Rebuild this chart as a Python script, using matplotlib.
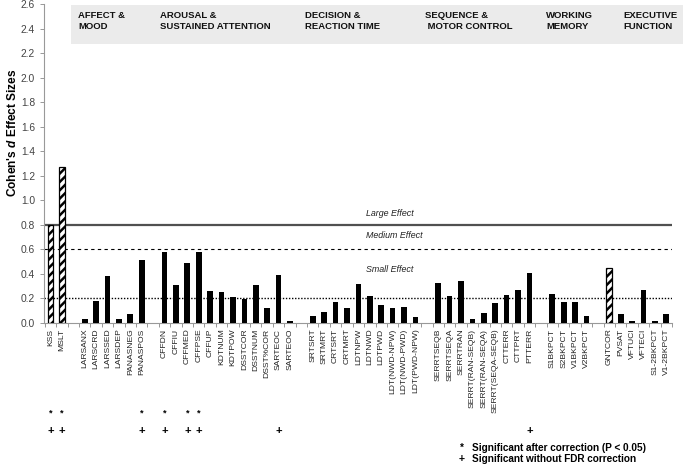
import matplotlib
matplotlib.use("Agg")
import matplotlib.pyplot as plt
import matplotlib.transforms as mtransforms
from matplotlib.patches import Rectangle
import numpy as np

plt.rcParams['font.family'] = ['Liberation Sans', 'DejaVu Sans']
plt.rcParams['mathtext.fontset'] = 'custom'
plt.rcParams['mathtext.bfit'] = 'Liberation Sans:italic:bold'
plt.rcParams['mathtext.it'] = 'Liberation Sans:italic'
plt.rcParams['hatch.linewidth'] = 1.8

# measures, "" = empty slot between groups
labels = ["KSS", "MSLT", "",
          "LARSANX", "LARSCRD", "LARSSED", "LARSDEP", "PANASNEG", "PANASPOS", "",
          "CFFDN", "CFFIU", "CFFMED", "CFFPSE", "CFFUP", "KDTNUM", "KDTPOW",
          "DSSTCOR", "DSSTNUM", "DSST%COR", "SARTEOC", "SARTEOO", "",
          "SRTSRT", "SRTMRT", "CRTSRT", "CRTMRT", "LDTNPW", "LDTNWD", "LDTPWD",
          "LDT(NWD-NPW)", "LDT(NWD-PWD)", "LDT(PWD-NPW)", "",
          "SERRTSEQB", "SERRTSEQA", "SERRTRAN", "SERRT(RAN-SEQB)", "SERRT(RAN-SEQA)",
          "SERRT(SEQA-SEQB)", "CTTERR", "CTTPRT", "PTTERR", "",
          "S1BKPCT", "S2BKPCT", "V1BKPCT", "V2BKPCT", "",
          "GNTCOR", "PVSAT", "VFTUCI", "VFTECI", "S1-2BKPCT", "V1-2BKPCT"]
effect = [0.80, 1.27, np.nan,
          0.03, 0.18, 0.385, 0.03, 0.07, 0.515, np.nan,
          0.575, 0.31, 0.49, 0.575, 0.26, 0.25, 0.21,
          0.195, 0.31, 0.125, 0.39, 0.013, np.nan,
          0.06, 0.09, 0.17, 0.12, 0.315, 0.22, 0.145,
          0.125, 0.133, 0.05, np.nan,
          0.33, 0.22, 0.34, 0.03, 0.08, 0.16, 0.23, 0.27, 0.41, np.nan,
          0.24, 0.17, 0.17, 0.06, np.nan,
          0.445, 0.07, 0.013, 0.27, 0.013, 0.07]
hatched = ["KSS", "MSLT", "GNTCOR"]
sig_fdr = ["KSS", "MSLT", "PANASPOS", "CFFDN", "CFFMED", "CFFPSE"]
sig_raw = ["KSS", "MSLT", "PANASPOS", "CFFDN", "CFFMED", "CFFPSE", "SARTEOC", "PTTERR"]

groups = ["AFFECT &\nMOOD", "AROUSAL &\nSUSTAINED ATTENTION", "DECISION &\nREACTION TIME",
          "SEQUENCE &\n MOTOR CONTROL", "WORKING\nMEMORY", "EXECUTIVE\nFUNCTION"]
group_px = [78, 160, 305, 425, 546, 623]

thresholds = [0.8, 0.6, 0.2]
thr_names = ["Large Effect", "Medium Effect", "Small Effect"]

x = np.arange(len(labels))
W, H = 685, 465

fig = plt.figure(figsize=(6.85, 4.65), dpi=100)
ax = fig.add_axes([44 / W, 1 - 323 / H, (672 - 44) / W, 319 / H])

# grey band with group titles
fig.patches.append(Rectangle((71 / W, 1 - 44 / H), (683 - 71) / W, 39 / H,
                             transform=fig.transFigure, facecolor="#ebebeb",
                             edgecolor="none", zorder=0))
for g, px in zip(groups, group_px):
    fig.text(px / W, 1 - 21 / H, g, fontsize=6.8, fontweight="bold",
             ha="left", va="center", linespacing=1.3, color="#111111")

for xi, lab, v in zip(x, labels, effect):
    if lab == "":
        continue
    if lab in hatched:
        ax.bar(xi, v, width=0.5, facecolor="white", edgecolor="black",
               hatch="////", linewidth=0.9, zorder=3)
    else:
        ax.bar(xi, v, width=0.5, color="black", zorder=3)

ax.axhline(thresholds[0], color="#505050", lw=1.6, zorder=2)
ax.axhline(thresholds[1], color="black", lw=0.8, ls=(0, (3, 3)), zorder=2)
ax.axhline(thresholds[2], color="black", lw=1.0, ls=(0, (1, 1.2)), zorder=2)
for y, t in zip([0.895, 0.71, 0.44], thr_names):
    ax.text(27.65, y, t, fontsize=6.4, style="italic", ha="left", va="center",
            color="#222222")

ax.set_xlim(-0.57, 54.37)
ax.set_ylim(0, 2.6)
ax.set_yticks(np.arange(0, 2.61, 0.2))
ax.set_yticklabels([f"{v:.1f}" for v in np.arange(0, 2.61, 0.2)])
ax.set_xticks(x)
ax.set_xticklabels(labels, rotation=90, fontsize=6.1, color="#222222")
ax.set_xticks(np.arange(-0.5, len(labels), 1), minor=True)
ax.tick_params(axis="x", which="major", length=0, pad=4)
ax.tick_params(axis="x", which="minor", length=3, color="#888888", width=0.6)
ax.tick_params(axis="y", labelsize=7.4, labelcolor="#444444", length=3,
               color="#888888", width=0.6)
for s in ["top", "right"]:
    ax.spines[s].set_visible(False)
for s in ["left", "bottom"]:
    ax.spines[s].set_color("#999999")
    ax.spines[s].set_linewidth(0.8)

fig.text(12 / W, 1 - 133 / H, r"Cohen's $\mathbfit{d}$ Effect Sizes", rotation=90,
         fontsize=8.6, fontweight="bold", ha="center", va="center")

# significance markers under the labels
trans = mtransforms.blended_transform_factory(ax.transData, fig.transFigure)
for xi, lab in zip(x, labels):
    if lab in sig_fdr:
        ax.text(xi, 1 - 413 / H, "*", transform=trans, ha="center", va="center",
                fontsize=6.5, fontweight="bold", clip_on=False)
    if lab in sig_raw:
        ax.text(xi, 1 - 431 / H, "+", transform=trans, ha="center", va="center",
                fontsize=8, fontweight="bold", clip_on=False)

fig.text(460 / W, 1 - 448 / H, "*", fontsize=7, fontweight="bold", ha="left", va="center")
fig.text(472 / W, 1 - 448 / H, "Significant after correction (P < 0.05)",
         fontsize=7.2, fontweight="bold", ha="left", va="center")
fig.text(459 / W, 1 - 459 / H, "+", fontsize=7.5, fontweight="bold", ha="left", va="center")
fig.text(472 / W, 1 - 459 / H, "Significant without FDR correction",
         fontsize=7.2, fontweight="bold", ha="left", va="center")

fig.savefig("out.png", dpi=100)
